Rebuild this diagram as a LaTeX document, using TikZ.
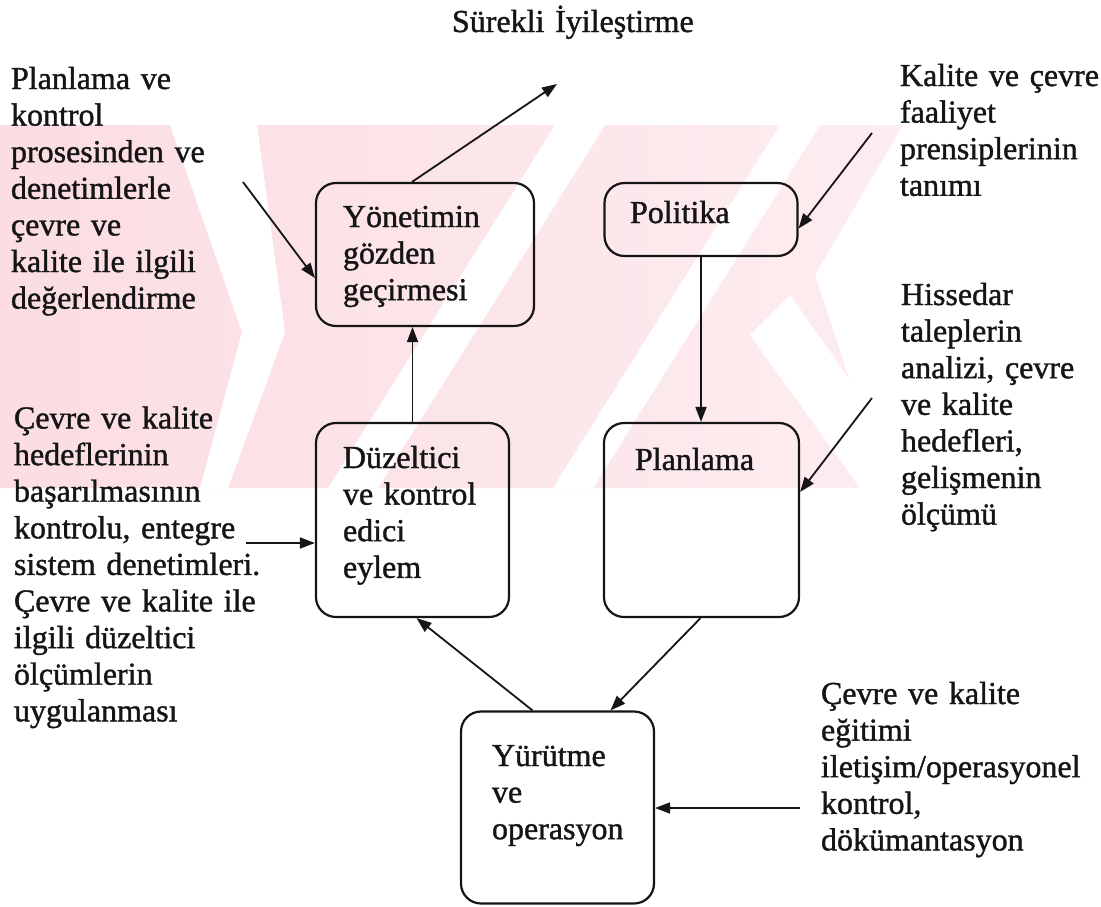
\documentclass[tikz,border=0pt]{standalone}
\usepackage{fontspec}
\setmainfont{Liberation Serif}[FakeBold=1.2]
\usetikzlibrary{arrows.meta}
\definecolor{ink}{HTML}{151515}
\definecolor{wmL}{HTML}{FBDDE2}
\definecolor{wmR}{HTML}{FDEDF0}

\tikzset{
  lbl/.style={anchor=base west, inner sep=0pt, outer sep=0pt, text width=270pt,
    align=left, text=ink, font=\fontsize{32}{36.6}\selectfont},
  box/.style={draw=ink, line width=2.2pt, rounded corners=20pt, inner sep=0pt},
  arr/.style={draw=ink, line width=1.8pt, -{Triangle[length=15pt,width=11pt]}}
}

\begin{document}
\begin{tikzpicture}[x=1pt,y=-1pt]
\useasboundingbox (0,0) rectangle (1101,906);

% pale background emblem
\shade[left color=wmL, right color=wmR]
  (0,125) -- (903,125) -- (815,275) -- (885,488) -- (0,488) -- cycle;
\fill[white] (170,125) -- (257,125) -- (285,332) -- (228,488) -- (200,488) -- (242,332) -- cycle;
\fill[white] (555,125) -- (605,125) -- (378,488) -- (328,488) -- cycle;
\fill[white] (780,125) -- (820,125) -- (593,488) -- (553,488) -- cycle;
\fill[white] (750,335) -- (790,295) -- (885,430) -- (885,488) -- (860,488) -- cycle;

% process boxes
\node[box, minimum width=218pt, minimum height=143pt] (yon) at (425,254.5) {};
\node[box, minimum width=193pt, minimum height=73pt]  (pol) at (701,219.5) {};
\node[box, minimum width=193pt, minimum height=194pt] (duz) at (412.5,520) {};
\node[box, minimum width=195pt, minimum height=194pt] (pln) at (701.5,520) {};
\node[box, minimum width=193pt, minimum height=192pt] (yur) at (557.5,807.5) {};

% box captions
\node[lbl] (tYon) at (343,227) {Yönetimin\\gözden\\geçirmesi};
\node[lbl] (tPol) at (630,223) {Politika};
\node[lbl] (tPln) at (635,470) {Planlama};
\node[lbl] (tDuz) at (343,468) {Düzeltici\\ve kontrol\\edici\\eylem};
\node[lbl] (tYur) at (492,766) {Yürütme\\ve\\operasyon};

% surrounding notes
\node[lbl] (tTitle) at (452,32) {Sürekli İyileştirme};
\node[lbl] (tL1) at (11,89) {Planlama ve\\kontrol\\prosesinden ve\\denetimlerle\\çevre ve\\kalite ile ilgili\\değerlendirme};
\node[lbl] (tL2) at (14,428.5) {Çevre ve kalite\\hedeflerinin\\başarılmasının\\kontrolu, entegre\\sistem denetimleri.\\Çevre ve kalite ile\\ilgili düzeltici\\ölçümlerin\\uygulanması};
\node[lbl] (tR1) at (900,86) {Kalite ve çevre\\faaliyet\\prensiplerinin\\tanımı};
\node[lbl] (tR2) at (901,305) {Hissedar\\taleplerin\\analizi, çevre\\ve kalite\\hedefleri,\\gelişmenin\\ölçümü};
\node[lbl] (tR3) at (821,704) {Çevre ve kalite\\eğitimi\\iletişim/operasyonel\\kontrol,\\dökümantasyon};

% free ends of the input arrows
\coordinate (cont)  at (557,84);
\coordinate (inYon) at (243,182);
\coordinate (inPol) at (872,133);
\coordinate (inPln) at (872,398);
\coordinate (inDuz) at (246,543);
\coordinate (inYur) at (800,808);

% connectors
\draw[arr] ([xshift=-13pt]yon.north) -- (cont);
\draw[arr] (inYon) -- ([yshift=-23.5pt]yon.west);
\draw[arr] (inPol) -- ([yshift=-9pt]pol.east);
\draw[arr] (pol.south) -- (pol.south |- pln.north);
\draw[arr] (inPln) -- ([yshift=28pt]pln.east);
\draw[arr] (duz.north) -- (duz.north |- yon.south);
\draw[arr] (inDuz) -- (inDuz -| duz.west);
\draw[arr] ([xshift=-25pt]yur.north) -- ([xshift=4pt]duz.south);
\draw[arr] ([xshift=-1pt]pln.south) -- ([xshift=53pt]yur.north);
\draw[arr] (inYur) -- (inYur -| yur.east);
\end{tikzpicture}
\end{document}
